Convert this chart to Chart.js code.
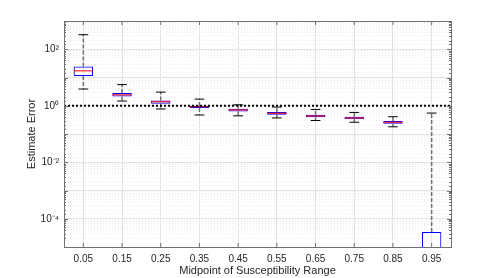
<!DOCTYPE html>
<html>
<head>
<meta charset="utf-8">
<script src="https://cdn.jsdelivr.net/npm/chart.js@4"></script>
<style>
  html, body { margin: 0; padding: 0; background: #fff; }
  #box-chart { display: block; }
</style>
</head>
<body>
<canvas id="box-chart" width="498" height="278"></canvas>
<script>
// data
const categories = ['0.05', '0.15', '0.25', '0.35', '0.45', '0.55', '0.65', '0.75', '0.85', '0.95'];
const whiskerHigh = [327, 5.6, 3.04, 1.72, 1.08, 0.9, 0.74, 0.58, 0.41, 0.55];
const q3 = [24.3, 2.8, 1.54, 0.975, 0.78, 0.6, 0.48, 0.41, 0.29, 3.4e-5];
const median = [17.2, 2.44, 1.38, 0.92, 0.71, 0.54, 0.43, 0.37, 0.26, 1e-6];
const q1 = [11.4, 2.13, 1.17, 0.83, 0.62, 0.48, 0.39, 0.33, 0.23, 1e-6];
const whiskerLow = [3.9, 1.47, 0.77, 0.47, 0.44, 0.37, 0.30, 0.26, 0.18, 1e-7];
const refLine = 1;
const yLabelExps = [2, 0, -2, -4];

const sup = { '0': '⁰', '1': '¹', '2': '²', '3': '³', '4': '⁴', '5': '⁵', '-': '⁻' };
const isDecade = v => Math.abs(Math.log10(v) - Math.round(Math.log10(v))) < 1e-6;

const boxExtras = {
    id: 'boxExtras',
    afterDatasetsDraw(chart) {
        const { ctx, chartArea: a, scales: { y } } = chart;
        const bars = chart.getDatasetMeta(0).data;
        ctx.save();
        ctx.beginPath();
        ctx.rect(a.left, a.top, a.right - a.left, a.bottom - a.top);
        ctx.clip();

        bars.forEach((bar, i) => {
            const x = bar.x;
            const half = bar.width / 2;
            // whiskers
            ctx.strokeStyle = '#707070';
            ctx.lineWidth = 1.5;
            ctx.setLineDash([4, 2]);
            ctx.beginPath();
            ctx.moveTo(x, y.getPixelForValue(q3[i]));
            ctx.lineTo(x, y.getPixelForValue(whiskerHigh[i]));
            ctx.moveTo(x, y.getPixelForValue(q1[i]));
            ctx.lineTo(x, y.getPixelForValue(whiskerLow[i]));
            ctx.stroke();
            // caps
            ctx.setLineDash([]);
            ctx.lineWidth = 1;
            ctx.strokeStyle = '#000';
            ctx.beginPath();
            [whiskerHigh[i], whiskerLow[i]].forEach(v => {
                const py = y.getPixelForValue(v);
                ctx.moveTo(x - half / 2, py);
                ctx.lineTo(x + half / 2, py);
            });
            ctx.stroke();
            // median
            ctx.strokeStyle = '#ff0000';
            ctx.beginPath();
            const my = y.getPixelForValue(median[i]);
            ctx.moveTo(x - half, my);
            ctx.lineTo(x + half, my);
            ctx.stroke();
        });

        // reference line
        const ry = y.getPixelForValue(refLine);
        ctx.strokeStyle = '#000';
        ctx.lineWidth = 2;
        ctx.setLineDash([2, 2]);
        ctx.beginPath();
        ctx.moveTo(a.left, ry);
        ctx.lineTo(a.right, ry);
        ctx.stroke();
        ctx.restore();
    },
    afterDraw(chart) {
        const { ctx, chartArea: a, scales: { x, y } } = chart;
        ctx.save();
        ctx.strokeStyle = '#707070';
        ctx.lineWidth = 1;
        ctx.beginPath();
        // inward ticks
        x.ticks.forEach((t, i) => {
            const px = x.getPixelForTick(i);
            ctx.moveTo(px, a.bottom); ctx.lineTo(px, a.bottom - 4);
            ctx.moveTo(px, a.top); ctx.lineTo(px, a.top + 4);
        });
        y.ticks.forEach(t => {
            const py = Math.round(y.getPixelForValue(t.value)) + 0.5;
            const len = isDecade(t.value) ? 4 : 2;
            ctx.moveTo(a.left, py); ctx.lineTo(a.left + len, py);
            ctx.moveTo(a.right, py); ctx.lineTo(a.right - len, py);
        });
        ctx.stroke();
        // frame
        ctx.strokeRect(Math.round(a.left) + 0.5, Math.round(a.top) + 0.5,
            Math.round(a.right - a.left), Math.round(a.bottom - a.top));
        ctx.restore();
    }
};

const drawChart = () => {
    const ctx = document.querySelector('#box-chart');
    new Chart(ctx, {
        type: 'bar',
        data: {
            labels: categories,
            datasets: [{
                data: q1.map((v, i) => [v, q3[i]]),
                backgroundColor: 'rgba(0,0,0,0)',
                borderColor: '#0000ff',
                borderWidth: 1,
                borderSkipped: false,
                categoryPercentage: 1,
                barPercentage: 0.5,
            }],
        },
        options: {
            responsive: false,
            animation: false,
            layout: { padding: { left: 25, top: 21, right: 47, bottom: 0 } },
            plugins: { legend: { display: false }, tooltip: { enabled: false } },
            scales: {
                x: {
                    type: 'category',
                    grid: { offset: false, color: '#e3e3e3', drawTicks: false },
                    border: { display: false },
                    ticks: { color: '#262626', padding: 6, font: { family: 'Liberation Sans, Arial', size: 10 } },
                    title: {
                        display: true,
                        text: 'Midpoint of Susceptibility Range',
                        color: '#262626',
                        padding: 0,
                        font: { family: 'Liberation Sans, Arial', size: 11 },
                    },
                    afterFit: s => { s.height = 31; },
                },
                y: {
                    type: 'logarithmic',
                    min: 1e-5,
                    max: 1e3,
                    grid: {
                        drawTicks: false,
                        color: c => (c.tick && isDecade(c.tick.value)) ? '#e3e3e3' : '#ededed',
                    },
                    border: {
                        display: false,
                        dash: c => (c.tick && !isDecade(c.tick.value)) ? [1, 2] : [],
                    },
                    ticks: {
                        autoSkip: false,
                        color: '#262626',
                        padding: 5,
                        font: { family: 'Liberation Sans, Arial', size: 10 },
                        callback: v => {
                            if (!isDecade(v)) return '';
                            const e = Math.round(Math.log10(v));
                            if (!yLabelExps.includes(e)) return '';
                            return '10' + String(e).split('').map(ch => sup[ch]).join('');
                        },
                    },
                    title: {
                        display: true,
                        text: 'Estimate Error',
                        color: '#262626',
                        padding: 0,
                        font: { family: 'Liberation Sans, Arial', size: 11 },
                    },
                    afterFit: s => { s.width = 39; },
                },
            },
        },
        plugins: [boxExtras],
    });
};

document.addEventListener('DOMContentLoaded', drawChart);
</script>
</body>
</html>
